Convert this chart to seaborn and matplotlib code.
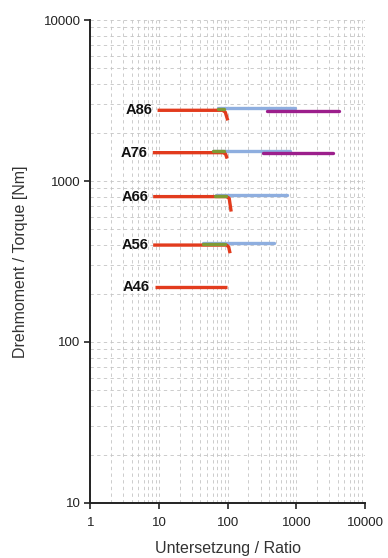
import numpy as np
import pandas as pd
import matplotlib
matplotlib.use("Agg")
import matplotlib.pyplot as plt
from matplotlib.ticker import LogLocator, FixedLocator, NullFormatter
import seaborn as sns

# Gearbox families and their rated torque level
models = ["A46", "A56", "A66", "A76", "A86"]

# Red curve: ratio / torque points per family (flat run, then drop-off)
red_ratio = {
    "A46": [8.7, 98],
    "A56": [8.2, 96, 103, 108],
    "A66": [8.2, 96, 105, 112],
    "A76": [8.1, 86, 93, 98],
    "A86": [9.5, 84, 92, 100],
}
red_torque = {
    "A46": [220, 220],
    "A56": [400, 400, 390, 356],
    "A66": [800, 800, 780, 646],
    "A76": [1500, 1500, 1470, 1378],
    "A86": [2750, 2750, 2680, 2380],
}

# Blue range (ratio from / to, torque)
blue_models = ["A56", "A66", "A76", "A86"]
blue_from = [44, 68, 61, 72]
blue_to = [470, 740, 810, 950]
blue_torque = [410, 815, 1540, 2840]

# Green overlap range
green_models = ["A56", "A66", "A76", "A86"]
green_from = [44, 66, 60, 72]
green_to = [92, 95, 88, 88]
green_torque = [408, 812, 1530, 2820]

# Purple range
purple_models = ["A76", "A86"]
purple_from = [325, 375]
purple_to = [3450, 4200]
purple_torque = [1490, 2720]

x_ticks = [1, 10, 100, 1000, 10000]
y_ticks = [10, 100, 1000, 10000]

RED = "#e23b1d"
BLUE = "#8eaedf"
GREEN = "#7f9a34"
PURPLE = "#9c1f8c"

sns.set_theme(style="white")
plt.rcParams["font.family"] = ["Liberation Sans", "DejaVu Sans"]

fig = plt.figure(figsize=(3.88, 5.58), dpi=100)
ax = fig.add_axes([0.233, 0.0986, 0.708, 0.8655])
ax.set_xscale("log")
ax.set_yscale("log")
ax.set_xlim(1, 10000)
ax.set_ylim(10, 10000)

# long-form tables
red_df = pd.DataFrame(
    [(m, i, x, y) for m in models
     for i, (x, y) in enumerate(zip(red_ratio[m], red_torque[m]))],
    columns=["model", "order", "ratio", "torque"],
)


def range_df(names, lo, hi, tq):
    rows = []
    for m, a, b, t in zip(names, lo, hi, tq):
        rows.append((m, 0, a, t))
        rows.append((m, 1, b, t))
    return pd.DataFrame(rows, columns=["model", "order", "ratio", "torque"])


blue_df = range_df(blue_models, blue_from, blue_to, blue_torque)
green_df = range_df(green_models, green_from, green_to, green_torque)
purple_df = range_df(purple_models, purple_from, purple_to, purple_torque)

common = dict(x="ratio", y="torque", units="model", estimator=None,
              sort=False, ax=ax, legend=False)
sns.lineplot(data=blue_df, color=BLUE, lw=2.4, zorder=3, **common)
sns.lineplot(data=purple_df, color=PURPLE, lw=2.4, zorder=4, **common)
sns.lineplot(data=red_df, color=RED, lw=2.4, zorder=5,
             solid_capstyle="butt", solid_joinstyle="round", **common)
sns.lineplot(data=green_df, color=GREEN, lw=2.4, zorder=6, **common)

# family labels to the left of each red curve
for m in models:
    ax.annotate(m, (red_ratio[m][0], red_torque[m][0]), xytext=(-3.5, 0),
                textcoords="offset points", ha="right", va="center",
                fontsize=10.5, fontweight="bold", color="#111111", zorder=7)

# axes styling
ax.xaxis.set_major_locator(FixedLocator(x_ticks))
ax.yaxis.set_major_locator(FixedLocator(y_ticks))
ax.set_xticklabels([str(v) for v in x_ticks])
ax.set_yticklabels([str(v) for v in y_ticks])
ax.xaxis.set_minor_locator(LogLocator(base=10, subs=np.arange(2, 10), numticks=20))
ax.yaxis.set_minor_locator(LogLocator(base=10, subs=np.arange(2, 10), numticks=20))
ax.xaxis.set_minor_formatter(NullFormatter())
ax.yaxis.set_minor_formatter(NullFormatter())

ax.tick_params(axis="both", which="major", direction="out", length=4, width=1.2,
               color="#222222", labelsize=9.5, labelcolor="#222222",
               bottom=True, left=True)
ax.tick_params(axis="x", which="major", pad=6)
ax.tick_params(axis="y", which="major", pad=3)
ax.tick_params(axis="both", which="minor", length=0)

ax.grid(True, which="both", axis="both", color="#c4c4c4", lw=0.6,
        linestyle=(0, (4, 4)))
ax.set_axisbelow(True)

for side in ["top", "right"]:
    ax.spines[side].set_visible(False)
for side in ["left", "bottom"]:
    ax.spines[side].set_color("#222222")
    ax.spines[side].set_linewidth(1.4)

ax.set_xlabel("Untersetzung / Ratio", fontsize=11.5, color="#333333", labelpad=9)
ax.set_ylabel("Drehmoment / Torque [Nm]", fontsize=11.5, color="#333333", labelpad=11)

fig.savefig("out.png", dpi=100)
